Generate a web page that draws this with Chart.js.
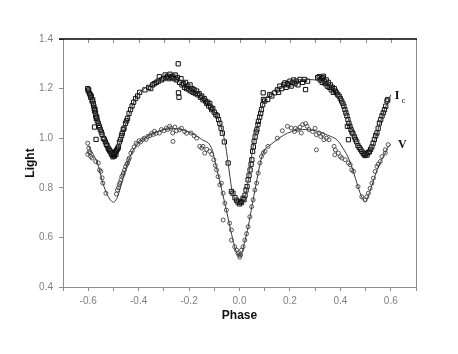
<!DOCTYPE html>
<html>
<head>
<meta charset="utf-8">
<script src="https://cdn.jsdelivr.net/npm/chart.js@4/dist/chart.umd.min.js"></script>
<style>
  body { margin: 0; background: #fff; }
  canvas { display: block; }
</style>
</head>
<body>
<canvas id="lc" width="458" height="354"></canvas>
<script>
// Ic observations (squares)
let icPhase = [
  -0.602,-0.600,-0.598,-0.595,-0.592,-0.590,-0.588,-0.585,-0.582,-0.580,-0.578,-0.576,-0.575,-0.573,-0.571,-0.570,
  -0.575,-0.568,-0.566,-0.564,-0.560,-0.558,-0.555,-0.552,-0.548,-0.545,-0.569,-0.540,-0.536,-0.532,-0.528,-0.525,
  -0.521,-0.518,-0.515,-0.512,-0.508,-0.505,-0.502,-0.500,-0.498,-0.496,-0.494,-0.492,-0.490,-0.488,-0.485,-0.482,
  -0.480,-0.476,-0.472,-0.468,-0.465,-0.461,-0.458,-0.452,-0.448,-0.444,-0.438,-0.432,-0.426,-0.420,-0.412,-0.404,
  -0.396,-0.375,-0.360,-0.352,-0.345,-0.338,-0.330,-0.322,-0.318,-0.310,-0.302,-0.295,-0.290,-0.285,-0.280,-0.276,
  -0.270,-0.265,-0.260,-0.255,-0.250,-0.246,-0.243,-0.242,-0.240,-0.238,-0.232,-0.228,-0.222,-0.218,-0.214,-0.210,
  -0.205,-0.200,-0.196,-0.192,-0.188,-0.184,-0.180,-0.175,-0.170,-0.165,-0.160,-0.155,-0.150,-0.145,-0.140,-0.135,
  -0.130,-0.126,-0.122,-0.118,-0.114,-0.110,-0.106,-0.100,-0.094,-0.088,-0.083,-0.078,-0.073,-0.068,-0.060,-0.045,
  -0.032,-0.026,-0.018,-0.012,-0.006,0.000,0.004,0.008,0.014,0.018,0.022,0.026,0.030,0.034,0.038,0.042,
  0.046,0.049,0.052,0.055,0.058,0.062,0.066,0.069,0.073,0.075,0.080,0.084,0.087,0.092,0.095,0.094,
  0.100,0.112,0.120,0.128,0.140,0.150,0.155,0.160,0.168,0.175,0.180,0.185,0.190,0.195,0.200,0.205,
  0.210,0.215,0.220,0.225,0.232,0.240,0.250,0.258,0.262,0.270,0.310,0.316,0.320,0.324,0.328,0.330,
  0.333,0.336,0.340,0.344,0.348,0.352,0.356,0.360,0.364,0.368,0.372,0.376,0.380,0.385,0.390,0.395,
  0.400,0.405,0.410,0.414,0.418,0.422,0.426,0.430,0.434,0.428,0.438,0.442,0.446,0.450,0.432,0.456,
  0.460,0.465,0.470,0.475,0.480,0.485,0.490,0.494,0.498,0.502,0.506,0.510,0.515,0.520,0.525,0.530,
  0.535,0.540,0.545,0.550,0.555,0.560,0.565,0.570,0.575,0.580,0.585,0.588
];
let icLight = [
  1.200,1.190,1.195,1.180,1.175,1.165,1.170,1.150,1.155,1.140,1.130,1.120,1.110,1.115,1.100,1.090,
  1.045,1.080,1.085,1.070,1.060,1.050,1.045,1.035,1.025,1.015,0.995,1.000,0.995,0.985,0.975,0.970,
  0.960,0.955,0.950,0.945,0.935,0.940,0.925,0.930,0.935,0.928,0.940,0.945,0.935,0.950,0.955,0.960,
  0.965,0.985,0.995,1.010,1.020,1.035,1.040,1.060,1.070,1.080,1.100,1.115,1.130,1.145,1.160,1.170,
  1.185,1.195,1.205,1.200,1.215,1.220,1.225,1.230,1.248,1.235,1.240,1.255,1.245,1.250,1.240,1.258,
  1.245,1.250,1.240,1.255,1.235,1.245,1.300,1.183,1.165,1.225,1.240,1.215,1.220,1.205,1.225,1.200,
  1.210,1.195,1.215,1.190,1.200,1.185,1.195,1.180,1.190,1.175,1.180,1.165,1.170,1.155,1.160,1.150,
  1.140,1.145,1.130,1.140,1.125,1.115,1.120,1.105,1.095,1.090,1.075,1.060,1.040,1.020,0.985,0.900,
  0.785,0.778,0.760,0.750,0.742,0.735,0.745,0.740,0.758,0.752,0.770,0.791,0.805,0.832,0.850,0.872,
  0.895,0.913,0.947,0.965,0.987,1.005,1.025,1.034,1.055,1.068,1.085,1.100,1.115,1.135,1.156,1.183,
  1.150,1.156,1.176,1.170,1.183,1.195,1.185,1.210,1.200,1.215,1.223,1.205,1.220,1.215,1.230,1.210,
  1.225,1.235,1.220,1.230,1.215,1.237,1.225,1.237,1.196,1.230,1.244,1.248,1.235,1.240,1.225,1.244,
  1.250,1.230,1.220,1.235,1.210,1.225,1.205,1.215,1.195,1.205,1.185,1.200,1.190,1.183,1.175,1.170,
  1.160,1.150,1.140,1.129,1.115,1.102,1.090,1.075,1.060,1.048,1.048,1.035,1.025,1.018,0.994,1.005,
  0.994,0.985,0.970,0.962,0.955,0.947,0.940,0.935,0.930,0.938,0.932,0.942,0.945,0.955,0.965,0.980,
  0.995,1.010,1.021,1.040,1.061,1.075,1.090,1.102,1.115,1.129,1.150,1.156
];

// V observations (circles)
let vPhase = [
  -0.602,-0.598,-0.602,-0.596,-0.593,-0.590,-0.585,-0.570,-0.560,-0.555,-0.550,-0.545,-0.542,-0.530,-0.488,-0.484,
  -0.480,-0.477,-0.474,-0.470,-0.467,-0.463,-0.460,-0.456,-0.452,-0.447,-0.444,-0.440,-0.437,-0.431,-0.425,-0.418,
  -0.410,-0.404,-0.398,-0.392,-0.384,-0.378,-0.370,-0.364,-0.356,-0.348,-0.342,-0.337,-0.330,-0.318,-0.310,-0.300,
  -0.290,-0.285,-0.277,-0.272,-0.265,-0.264,-0.256,-0.250,-0.238,-0.230,-0.218,-0.210,-0.192,-0.180,-0.170,-0.158,
  -0.150,-0.145,-0.138,-0.130,-0.118,-0.110,-0.102,-0.096,-0.091,-0.085,-0.078,-0.072,-0.065,-0.065,-0.058,-0.052,
  -0.039,-0.032,-0.032,-0.019,-0.012,-0.006,0.000,0.001,0.005,0.008,0.014,0.021,0.028,0.034,0.041,0.048,
  0.054,0.061,0.068,0.074,0.081,0.087,0.094,0.101,0.113,0.150,0.170,0.190,0.205,0.218,0.222,0.230,
  0.240,0.245,0.250,0.262,0.268,0.275,0.290,0.300,0.305,0.305,0.315,0.322,0.330,0.335,0.345,0.355,
  0.375,0.380,0.378,0.392,0.400,0.406,0.419,0.432,0.439,0.445,0.452,0.470,0.485,0.498,0.505,0.511,
  0.518,0.525,0.531,0.538,0.545,0.550,0.558,0.565,0.578,0.578,0.590
];
let vLight = [
  0.980,0.960,0.935,0.945,0.940,0.926,0.920,0.906,0.900,0.872,0.866,0.840,0.819,0.778,0.775,0.791,
  0.800,0.812,0.820,0.832,0.845,0.852,0.860,0.872,0.885,0.895,0.900,0.913,0.920,0.940,0.950,0.965,
  0.980,0.975,0.990,0.985,0.994,1.000,0.995,1.007,1.010,1.020,1.015,1.028,1.020,1.021,1.035,1.030,
  1.041,1.035,1.048,1.040,1.021,0.987,1.045,1.030,1.034,1.040,1.027,1.020,1.021,1.010,1.000,0.967,
  0.960,0.967,0.940,0.955,0.947,0.935,0.913,0.890,0.872,0.845,0.812,0.819,0.778,0.670,0.738,0.710,
  0.657,0.630,0.589,0.562,0.549,0.535,0.528,0.520,0.530,0.549,0.562,0.589,0.615,0.643,0.683,0.724,
  0.751,0.791,0.819,0.859,0.900,0.926,0.940,0.947,0.967,1.000,1.030,1.048,1.041,1.027,1.040,1.034,
  1.045,1.021,1.055,1.059,1.048,1.035,1.027,1.040,1.014,0.953,1.021,1.007,1.015,0.994,1.000,0.994,
  0.967,0.953,0.933,0.940,0.926,0.920,0.913,0.900,0.893,0.872,0.866,0.805,0.764,0.751,0.764,0.778,
  0.798,0.819,0.839,0.866,0.886,0.895,0.906,0.926,0.940,0.953,0.974
];

// fitted light curves
let icFitPhase = [-0.60,-0.585,-0.57,-0.555,-0.54,-0.525,-0.51,-0.50,-0.49,-0.475,-0.46,-0.445,-0.43,-0.415,-0.40,-0.37,-0.33,-0.28,-0.25,-0.22,-0.19,-0.15,-0.12,-0.10,-0.085,-0.07,-0.055,-0.04,-0.03,-0.015,0,0.015,0.03,0.04,0.05,0.06,0.07,0.08,0.09,0.10,0.12,0.15,0.20,0.25,0.30,0.35,0.39,0.41,0.43,0.45,0.47,0.49,0.50,0.515,0.53,0.545,0.56,0.575,0.59,0.60];
let icFitLight = [1.195,1.155,1.10,1.06,1.015,0.98,0.95,0.935,0.945,0.98,1.03,1.075,1.12,1.155,1.18,1.205,1.225,1.24,1.24,1.225,1.205,1.17,1.14,1.11,1.08,1.035,0.97,0.86,0.79,0.75,0.737,0.75,0.80,0.87,0.94,1.00,1.045,1.09,1.13,1.155,1.18,1.20,1.225,1.237,1.235,1.22,1.185,1.15,1.085,1.025,0.985,0.95,0.935,0.945,0.975,1.02,1.07,1.115,1.15,1.175];
let vFitPhase = [-0.60,-0.58,-0.56,-0.545,-0.53,-0.515,-0.50,-0.485,-0.47,-0.455,-0.44,-0.42,-0.40,-0.37,-0.33,-0.28,-0.25,-0.20,-0.15,-0.11,-0.09,-0.07,-0.05,-0.035,-0.02,-0.01,0,0.01,0.02,0.035,0.05,0.065,0.08,0.09,0.105,0.115,0.15,0.19,0.25,0.30,0.35,0.39,0.41,0.43,0.45,0.47,0.485,0.50,0.515,0.53,0.545,0.56,0.575,0.59,0.60];
let vFitLight = [0.97,0.935,0.89,0.83,0.785,0.755,0.742,0.76,0.81,0.865,0.91,0.955,0.98,1.005,1.025,1.038,1.038,1.025,0.995,0.958,0.875,0.79,0.70,0.63,0.565,0.537,0.528,0.54,0.58,0.645,0.73,0.81,0.89,0.93,0.96,0.967,0.995,1.02,1.035,1.03,1.012,0.99,0.96,0.925,0.87,0.805,0.762,0.745,0.78,0.825,0.87,0.905,0.935,0.965,0.975];

let yTicks = [0.4, 0.6, 0.8, 1.0, 1.2, 1.4];

function pairs(xs, ys) {
    return xs.map((v, i) => ({ x: v, y: ys[i] }));
}

// frame: black top edge, gray right edge, inward ticks on top, band names
const framePlugin = {
    id: 'frame',
    afterDatasetsDraw(chart) {
        let ctx = chart.ctx;
        let a = chart.chartArea;
        let xs = chart.scales.x;
        let ys = chart.scales.y;
        ctx.save();
        ctx.strokeStyle = '#8c8c8c';
        ctx.lineWidth = 1;
        ctx.beginPath();
        ctx.moveTo(a.right + 0.5, a.top);
        ctx.lineTo(a.right + 0.5, a.bottom);
        xs.ticks.forEach(t => {
            let px = Math.round(xs.getPixelForValue(t.value)) + 0.5;
            ctx.moveTo(px, a.top);
            ctx.lineTo(px, a.top + 4);
        });
        ctx.stroke();
        ctx.strokeStyle = '#000';
        ctx.lineWidth = 1.6;
        ctx.beginPath();
        ctx.moveTo(a.left - 4, a.top);
        ctx.lineTo(a.right + 1, a.top);
        ctx.stroke();

        ctx.fillStyle = '#111';
        ctx.textBaseline = 'middle';
        ctx.font = 'bold 12px "Liberation Serif"';
        let ix = xs.getPixelForValue(0.616);
        let iy = ys.getPixelForValue(1.169);
        ctx.fillText('I', ix, iy);
        let iw = ctx.measureText('I').width;
        ctx.font = '9px "Liberation Serif"';
        ctx.fillText('c', ix + iw + 2, iy + 4);
        ctx.font = 'bold 12px "Liberation Serif"';
        ctx.fillText('V', xs.getPixelForValue(0.629), ys.getPixelForValue(0.971));
        ctx.restore();
    }
};

let ctx = document.getElementById('lc').getContext('2d');

let lcChart = new Chart(ctx, {
    type: 'scatter',
    data: {
        datasets: [
            {
                label: 'Ic fit',
                data: pairs(icFitPhase, icFitLight),
                showLine: true,
                pointRadius: 0,
                borderColor: '#3a3a3a',
                borderWidth: 1,
                cubicInterpolationMode: 'monotone'
            },
            {
                label: 'V fit',
                data: pairs(vFitPhase, vFitLight),
                showLine: true,
                pointRadius: 0,
                borderColor: '#3a3a3a',
                borderWidth: 1,
                cubicInterpolationMode: 'monotone'
            },
            {
                label: 'Ic',
                data: pairs(icPhase, icLight),
                pointStyle: 'rect',
                pointRadius: 3,
                borderWidth: 1,
                borderColor: '#111',
                backgroundColor: 'rgba(255,255,255,0)'
            },
            {
                label: 'V',
                data: pairs(vPhase, vLight),
                pointStyle: 'circle',
                pointRadius: 2,
                borderWidth: 0.9,
                borderColor: '#444',
                backgroundColor: 'rgba(255,255,255,0)'
            }
        ]
    },
    options: {
        responsive: false,
        animation: false,
        devicePixelRatio: 1,
        layout: { padding: { top: 39, right: 42, left: 0, bottom: 0 } },
        plugins: {
            legend: { display: false },
            tooltip: { enabled: false }
        },
        scales: {
            x: {
                type: 'linear',
                min: -0.7,
                max: 0.7,
                afterFit: function(s) { s.height = 67; },
                afterBuildTicks: function(s) {
                    s.ticks = [];
                    for (let k = -7; k <= 7; k++) s.ticks.push({ value: k / 10 });
                },
                border: { color: '#8c8c8c', width: 1 },
                grid: { display: true, drawOnChartArea: false, tickLength: 4, tickColor: '#8c8c8c' },
                ticks: {
                    autoSkip: false,
                    maxRotation: 0,
                    padding: 4,
                    color: '#808080',
                    font: { family: 'Liberation Sans', size: 10 },
                    callback: function(value) {
                        let k = Math.round(value * 10);
                        if (k % 2 !== 0 || Math.abs(k) > 6) return '';
                        return (k / 10).toFixed(1);
                    }
                },
                title: {
                    display: true,
                    text: 'Phase',
                    color: '#111',
                    font: { family: 'Liberation Sans', size: 12, weight: 'bold' },
                    padding: { top: 0, bottom: 31 }
                }
            },
            y: {
                type: 'linear',
                min: 0.4,
                max: 1.4,
                afterFit: function(s) { s.width = 63; },
                afterBuildTicks: function(s) {
                    s.ticks = yTicks.map(v => ({ value: v }));
                },
                border: { color: '#8c8c8c', width: 1 },
                grid: { display: true, drawOnChartArea: false, tickLength: 4, tickColor: '#8c8c8c' },
                ticks: {
                    padding: 6,
                    color: '#808080',
                    font: { family: 'Liberation Sans', size: 10 },
                    callback: function(value) { return value.toFixed(1); }
                },
                title: {
                    display: true,
                    text: 'Light',
                    color: '#111',
                    font: { family: 'Liberation Sans', size: 12, weight: 'bold' },
                    padding: { top: 23, bottom: 0 }
                }
            }
        }
    },
    plugins: [framePlugin]
});
</script>
</body>
</html>
